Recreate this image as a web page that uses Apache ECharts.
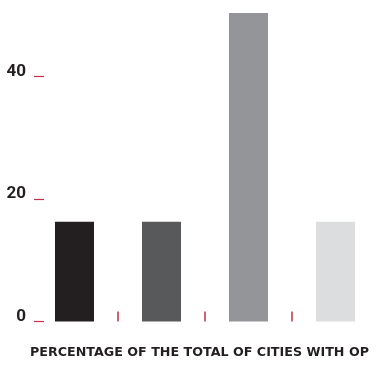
<!DOCTYPE html>
<html>
<head>
<meta charset="utf-8">
<script src="https://cdn.jsdelivr.net/npm/echarts@6/dist/echarts.min.js"></script>
<style>html,body{margin:0;padding:0;background:#fff}#c{width:377px;height:368px}</style>
</head>
<body>
<div id="c"></div>
<script>
const categories = ['A', 'B', 'C', 'D'];
const tickSlots = ['0', '1', '2', '3', '4'];
const values = [16.3, 16.3, 50.4, 16.3];
const barColors = ['#231f20', '#58595b', '#939598', '#dcdddf'];
const titleText = 'PERCENTAGE OF THE TOTAL OF CITIES WITH OP';

const tickColor = '#c0304a';
const chart = echarts.init(document.getElementById('c'), null, {renderer: 'canvas'});
chart.setOption({
  animation: false,
  backgroundColor: '#ffffff',
  title: {
    text: titleText,
    left: 30,
    top: 346,
    padding: 0,
    textStyle: {
      fontFamily: "'DejaVu Sans', sans-serif",
      fontWeight: 'bold',
      fontSize: 12.7,
      color: '#231f20'
    }
  },
  grid: {left: 31, right: -2, top: -45.7, bottom: 46.5, outerBoundsMode: 'none', containLabel: false},
  xAxis: [{
    type: 'category',
    data: categories,
    axisLine: {show: false},
    axisLabel: {show: false},
    axisTick: {show: false},
    splitLine: {show: false}
  }, {
    type: 'category',
    position: 'bottom',
    boundaryGap: false,
    data: tickSlots,
    axisLine: {show: false},
    axisLabel: {show: false},
    axisTick: {
      show: true,
      length: 10,
      inside: true,
      interval: function (i) { return i > 0 && i < tickSlots.length - 1; },
      lineStyle: {color: tickColor, width: 1.5}
    },
    splitLine: {show: false}
  }],
  yAxis: {
    type: 'value',
    min: 0,
    max: 60,
    interval: 20,
    offset: -3,
    axisLine: {show: false},
    splitLine: {show: false},
    axisTick: {show: true, inside: true, length: 10, lineStyle: {color: tickColor, width: 1.2}},
    axisLabel: {
      margin: 8,
      fontFamily: "Roboto, sans-serif",
      fontWeight: 'bold',
      fontSize: 17,
      color: '#231f20',
      verticalAlign: 'bottom',
      lineHeight: 10
    }
  },
  series: [{
    type: 'bar',
    xAxisIndex: 0,
    data: values.map((v, i) => ({value: v, itemStyle: {color: barColors[i]}})),
    barWidth: 39
  }]
});
</script>
</body>
</html>
